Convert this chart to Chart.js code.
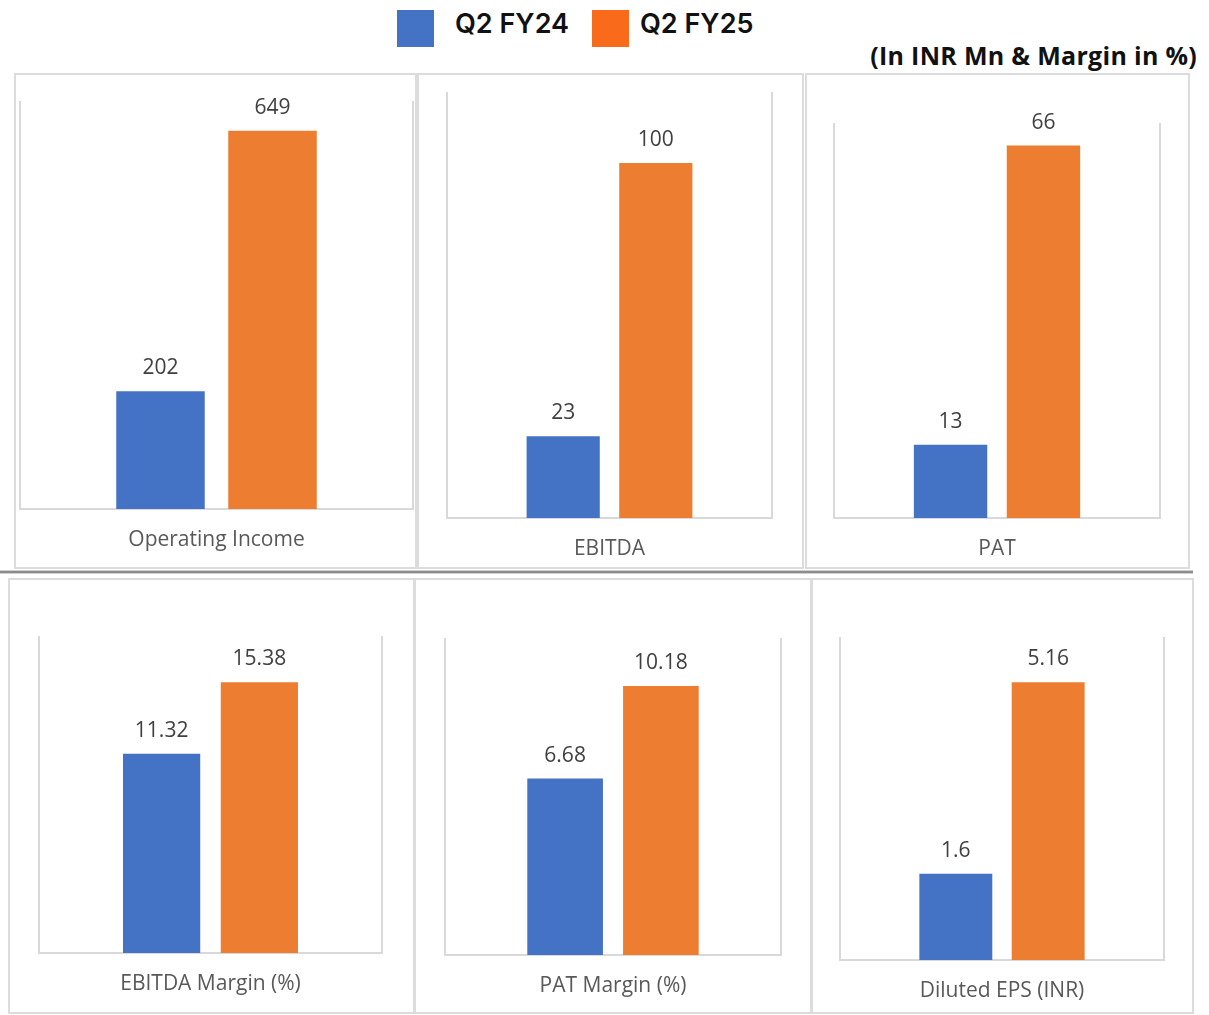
<!DOCTYPE html>
<html>
<head>
<meta charset="utf-8">
<script src="https://cdn.jsdelivr.net/npm/chart.js@4.4.1/dist/chart.umd.min.js"></script>
<style>
  html, body { margin: 0; padding: 0; background: #fff; }
  body { width: 1209px; height: 1015px; position: relative; overflow: hidden; font-family: 'Open Sans', sans-serif; }
  .legend-box { position: absolute; top: 10px; width: 37px; height: 37px; }
  .legend-text { position: absolute; top: 6px; font-family: Inter, sans-serif; font-weight: 600; font-size: 27px; color: #111; line-height: 36px; }
  .unit-note { position: absolute; right: 12px; top: 38px; font-weight: 700; font-size: 25px; letter-spacing: 0.3px; color: #111; line-height: 34px; }
  .panel-frame { position: absolute; border: 2px solid #dcdcdc; box-sizing: border-box; }
  .panel { position: absolute; }
  .row-sep { position: absolute; left: 0; top: 570px; width: 1193px; height: 2px; background: #8c8c8c; border-top: 1px solid #cfcfcf; border-bottom: 1px solid #cfcfcf; }
</style>
</head>
<body>
<div class="legend-box" style="left:397px;background:#4472C4"></div>
<div class="legend-text" style="left:455px">Q2 FY24</div>
<div class="legend-box" style="left:592px;background:#F96A1B"></div>
<div class="legend-text" style="left:640px">Q2 FY25</div>
<div class="unit-note">(In INR Mn &amp; Margin in %)</div>
<div class="row-sep"></div>
<div id="panels"></div>

<script>
'use strict';

const SERIES = ['Q2 FY24', 'Q2 FY25'];
const CATEGORIES = ['Operating Income', 'EBITDA', 'PAT', 'EBITDA Margin (%)', 'PAT Margin (%)', 'Diluted EPS (INR)'];
const FY24 = [202, 23, 13, 11.32, 6.68, 1.6];
const FY25 = [649, 100, 66, 15.38, 10.18, 5.16];
const AXIS_MAX = [700, 120, 70, 18, 12, 6];

const COLORS = ['#4472C4', '#ED7D31'];

// panel boxes and plot areas, page pixels
const LAYOUT = [
  { box: [14, 73, 403, 496],  plot: [20, 101, 413, 509] },
  { box: [417, 73, 387, 496], plot: [447, 92, 772, 518] },
  { box: [805, 73, 385, 496], plot: [834, 123, 1160, 518] },
  { box: [8, 578, 407, 436],  plot: [39, 636, 382, 953] },
  { box: [414, 578, 398, 436], plot: [445, 638, 781, 955] },
  { box: [811, 578, 383, 436], plot: [840, 637, 1164, 960] },
];

const framePlugin = {
  id: 'frame',
  beforeDatasetsDraw(chart) {
    const { ctx, chartArea: a } = chart;
    ctx.save();
    ctx.strokeStyle = '#d9d9d9';
    ctx.lineWidth = 2;
    ctx.beginPath();
    ctx.moveTo(a.left, a.top);
    ctx.lineTo(a.left, a.bottom);
    ctx.lineTo(a.right, a.bottom);
    ctx.lineTo(a.right, a.top);
    ctx.stroke();
    ctx.restore();
  },
};

const valueLabels = {
  id: 'valueLabels',
  afterDatasetsDraw(chart) {
    const { ctx } = chart;
    ctx.save();
    ctx.font = "21px 'Open Sans', sans-serif";
    ctx.fillStyle = '#404040';
    ctx.textAlign = 'center';
    ctx.textBaseline = 'alphabetic';
    chart.data.datasets.forEach((ds, i) => {
      chart.getDatasetMeta(i).data.forEach((bar, j) => {
        ctx.fillText(String(ds.data[j]), bar.x, bar.y - 17);
      });
    });
    ctx.restore();
  },
};

function buildPanel(idx) {
  const [bx, by, bw, bh] = LAYOUT[idx].box;
  const [pl, pt, pr, pb] = LAYOUT[idx].plot;
  const host = document.getElementById('panels');

  const frame = document.createElement('div');
  frame.className = 'panel-frame';
  Object.assign(frame.style, { left: bx + 'px', top: by + 'px', width: bw + 'px', height: bh + 'px' });
  host.appendChild(frame);

  const wrap = document.createElement('div');
  wrap.className = 'panel';
  Object.assign(wrap.style, { left: bx + 'px', top: by + 'px', width: bw + 'px', height: bh + 'px' });
  const canvas = document.createElement('canvas');
  wrap.appendChild(canvas);
  host.appendChild(wrap);

  const axisHeight = (by + bh) - pb;

  new Chart(canvas, {
    type: 'bar',
    data: {
      labels: [CATEGORIES[idx]],
      datasets: [
        { label: SERIES[0], data: [FY24[idx]], backgroundColor: COLORS[0] },
        { label: SERIES[1], data: [FY25[idx]], backgroundColor: COLORS[1] },
      ],
    },
    options: {
      responsive: true,
      maintainAspectRatio: false,
      animation: false,
      events: [],
      categoryPercentage: 0.57,
      barPercentage: 0.79,
      layout: {
        padding: { left: pl - bx, right: (bx + bw) - pr, top: pt - by, bottom: 0 },
      },
      plugins: {
        legend: { display: false },
        tooltip: { enabled: false },
      },
      scales: {
        x: {
          grid: { display: false, drawTicks: false },
          border: { display: false },
          ticks: {
            color: '#595959',
            padding: 18,
            font: { family: "'Open Sans', sans-serif", size: 21 },
          },
          afterFit: s => { s.height = axisHeight; },
        },
        y: { display: false, min: 0, max: AXIS_MAX[idx] },
      },
    },
    plugins: [framePlugin, valueLabels],
  });
}

CATEGORIES.forEach((_, i) => buildPanel(i));
</script>
</body>
</html>
